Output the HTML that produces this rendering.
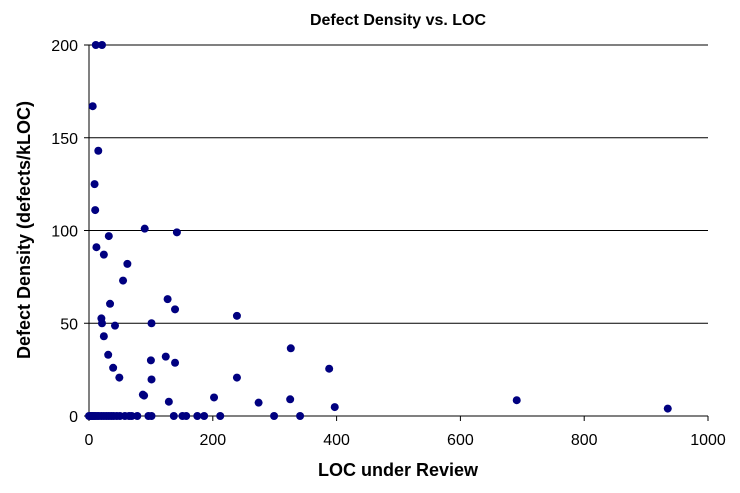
<!DOCTYPE html>
<html><head><meta charset="utf-8"><style>
body{margin:0;background:#fff}
svg{display:block;font-family:"Liberation Sans",Arial,sans-serif}
</style></head><body>
<svg id="chart" width="740" height="493">
<text x="398" y="25" text-anchor="middle" font-size="16" font-weight="bold">Defect Density vs. LOC</text>
<g id="grid"></g><g id="axes"></g><g id="points"></g>
<text x="398" y="476" text-anchor="middle" font-size="18" font-weight="bold">LOC under Review</text>
<text transform="translate(30,230) rotate(-90)" text-anchor="middle" font-size="18" font-weight="bold">Defect Density (defects/kLOC)</text>
</svg>
<script>
const xVals=[11,21,6,15,9,10,90,142,32,12,24,62,55,127,34,139,239,20,21,42,101,24,326,31,124,100,139,39,388,49,101,239,87,89,202,129,274,325,397,691,935,
0,2,4,6,8,10,13,16,20,24,28,32,36,40,45,50,58,65,69,78,96,101,137,151,157,175,186,212,299,341];
const yVals=[200,200,167,143,125,111,101,99,97,91,87,82,73,63,60.5,57.5,54,52.6,50,48.7,50,43,36.5,33,32,30,28.7,26,25.5,20.7,19.7,20.7,11.5,11,10,7.7,7.2,9,4.8,8.5,4,
0,0,0,0,0,0,0,0,0,0,0,0,0,0,0,0,0,0,0,0,0,0,0,0,0,0,0,0,0,0];
const xTicks=[0,200,400,600,800,1000];
const yTicks=[0,50,100,150,200];
const NS="http://www.w3.org/2000/svg";
const X0=89,X1=708,Y0=416,Y1=45;
const sx=v=>X0+(v/1000)*(X1-X0);
const sy=v=>Y0-(v/200)*(Y0-Y1);
function mk(t,a,p){const e=document.createElementNS(NS,t);for(const k in a)e.setAttribute(k,a[k]);p.appendChild(e);return e;}
const grid=document.getElementById('grid'),axes=document.getElementById('axes'),pts=document.getElementById('points');
yTicks.forEach(v=>{
 if(v>0){const g=mk('line',{x1:X0,x2:X1,y1:sy(v),y2:sy(v),stroke:'#000','stroke-width':1},grid);
 
 }
 mk('line',{x1:X0-5,x2:X0,y1:sy(v),y2:sy(v),stroke:'#000'},axes);
 const t=mk('text',{x:X0-11,y:sy(v)+6,'text-anchor':'end','font-size':16},axes);t.textContent=v;
 
 
});
xTicks.forEach(v=>{
 mk('line',{x1:sx(v),x2:sx(v),y1:Y0,y2:Y0+5,stroke:'#000'},axes);
 const t=mk('text',{x:sx(v),y:Y0+29,'text-anchor':'middle','font-size':16},axes);t.textContent=v;
 
 
});
const xa=mk('line',{x1:X0,x2:X1,y1:Y0,y2:Y0,stroke:'#000'},axes);


const ya=mk('line',{x1:X0,x2:X0,y1:Y1,y2:Y0,stroke:'#000'},axes);


xVals.forEach((x,i)=>{
 const c=mk('circle',{cx:sx(x),cy:sy(yVals[i]),r:4,fill:'#000080'},pts);
 
 
});
</script>
</body></html>
